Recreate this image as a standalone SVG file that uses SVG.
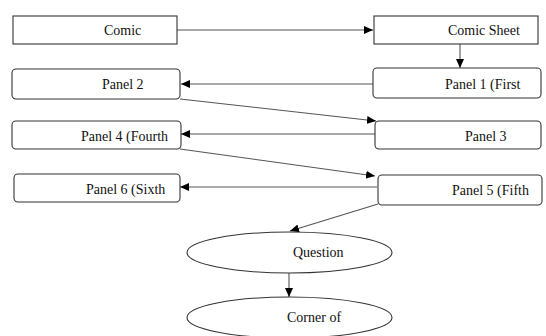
<svg xmlns="http://www.w3.org/2000/svg" width="546" height="336" viewBox="0 0 546 336">
<style>
.box{fill:#fff;stroke:#333;stroke-width:1.1}
.t{font-family:"Liberation Serif","Times New Roman",serif;font-size:14px;fill:#111}
.c{stroke:#555;stroke-width:1.1;fill:none;marker-end:url(#ah)}
</style>
<defs>
<marker id="ah" markerUnits="userSpaceOnUse" markerWidth="10" markerHeight="8" refX="9" refY="4" orient="auto">
<path d="M0,0 L9,4 L0,8 Z" fill="#000"/>
</marker>
</defs>
<rect width="546" height="336" fill="#fff"/>
<g id="connectors">
<line class="c" x1="177" y1="30" x2="373" y2="30"/>
<line class="c" x1="460" y1="44" x2="460" y2="68"/>
<line class="c" x1="373" y1="84" x2="181" y2="84"/>
<line class="c" x1="180" y1="99" x2="376" y2="121"/>
<line class="c" x1="375" y1="134" x2="181" y2="134"/>
<line class="c" x1="180" y1="149" x2="375" y2="176"/>
<line class="c" x1="377" y1="187" x2="180" y2="187"/>
<line class="c" x1="378" y1="204" x2="290" y2="231"/>
<line class="c" x1="289" y1="273" x2="289" y2="297"/>
</g>
<g id="comic"><rect class="box" x="13" y="16" width="164" height="28"/><text class="t" x="104" y="35">Comic</text></g>
<g id="comic-sheet"><rect class="box" x="374" y="16" width="164" height="28"/><text class="t" x="448" y="35">Comic Sheet</text></g>
<g id="panel1"><rect class="box" x="373" y="68" width="168" height="30" rx="4"/><text class="t" x="445" y="89">Panel 1 (First</text></g>
<g id="panel2"><rect class="box" x="12" y="69" width="168" height="30" rx="4"/><text class="t" x="102" y="89">Panel 2</text></g>
<g id="panel3"><rect class="box" x="375" y="121" width="166" height="28" rx="4"/><text class="t" x="465" y="141">Panel 3</text></g>
<g id="panel4"><rect class="box" x="12" y="121" width="169" height="28" rx="4"/><text class="t" x="81" y="141">Panel 4 (Fourth</text></g>
<g id="panel5"><rect class="box" x="378" y="175" width="164" height="30" rx="4"/><text class="t" x="452" y="195">Panel 5 (Fifth</text></g>
<g id="panel6"><rect class="box" x="14" y="174" width="166" height="28" rx="4"/><text class="t" x="86" y="194">Panel 6 (Sixth</text></g>
<g id="question"><ellipse class="box" cx="289.5" cy="252.5" rx="102.5" ry="20.5"/><text class="t" x="293" y="257">Question</text></g>
<g id="corner"><ellipse class="box" cx="289.5" cy="317.5" rx="102.5" ry="20.5"/><text class="t" x="287" y="322">Corner of</text></g>
</svg>
